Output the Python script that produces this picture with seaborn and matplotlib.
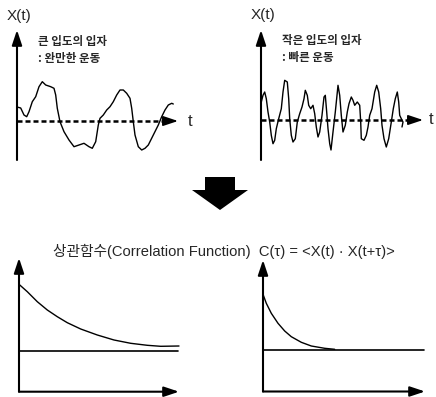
import numpy as np
import seaborn as sns
import matplotlib.pyplot as plt

# slow motion of a large particle (top left)
t_slow = [0.0, 0.37, 0.7, 0.97, 1.2, 1.53, 1.87, 2.2, 2.53, 2.87, 3.37, 3.7, 3.87,
          4.03, 4.3, 4.7, 5.2, 5.7, 6.2, 6.7, 7.2, 7.53, 7.87, 8.13, 8.3, 8.63, 8.97,
          9.3, 9.63, 9.97, 10.3, 10.63, 10.97, 11.3, 11.47, 11.63, 11.8, 12.13, 12.47,
          12.8, 13.13, 13.63, 14.13, 14.47, 14.8, 15.13, 15.47, 15.63]
x_slow = [1.4, 1.3, 0.6, 0.43, 0.93, 1.93, 2.43, 3.43, 3.93, 3.6, 3.43, 3.27, 2.6,
          1.27, -0.07, -1.07, -1.9, -2.57, -2.4, -2.23, -2.57, -2.73, -2.07, -0.4, 0.27,
          0.6, 1.1, 1.43, 1.93, 2.6, 3.1, 3.1, 2.77, 2.27, 1.27, -0.07, -1.4, -2.57, -2.9,
          -2.73, -2.4, -1.4, -0.4, 0.43, 1.1, 1.6, 1.77, 1.7]

# fast motion of a small particle (top right)
t_fast = [0.03, 0.2, 0.37, 0.53, 0.7, 0.87, 1.03, 1.2, 1.37, 1.53, 1.77, 2.03, 2.2,
          2.37, 2.63, 2.77, 2.87, 3.03, 3.2, 3.43, 3.63, 3.87, 4.1, 4.3, 4.43, 4.63,
          4.77, 4.97, 5.2, 5.37, 5.53, 5.7, 5.87, 6.1, 6.3, 6.43, 6.57, 6.7, 6.87, 7.0,
          7.2, 7.43, 7.6, 7.7, 7.87, 8.03, 8.2, 8.43, 8.63, 8.8, 9.03, 9.2, 9.37, 9.63,
          9.87, 9.97, 10.03, 10.3, 10.53, 10.7, 10.87, 11.1, 11.37, 11.57, 11.77, 11.97,
          12.1, 12.3, 12.53, 12.77, 13.03, 13.23, 13.43, 13.63, 13.77, 13.87, 14.03,
          14.2, 14.1]
x_fast = [1.8, 2.47, 2.8, 2.13, 0.8, -0.2, -1.53, -2.37, -2.03, -0.87, 0.13, 1.13, 2.8,
          3.97, 3.8, 2.13, 0.13, -1.53, -2.2, -1.87, -0.2, 0.63, 1.3, 2.13, 2.97, 2.47,
          1.47, 1.13, 1.47, 0.63, -0.7, -1.7, -1.2, 0.47, 2.3, 2.47, 0.8, -0.87, -2.37,
          -3.0, -1.2, 0.8, 2.47, 3.47, 2.47, 0.47, -1.2, -0.53, 0.8, 1.63, 2.3, 1.97, 1.47,
          1.8, 1.47, -0.2, -1.87, -2.03, -1.53, -0.7, 0.47, 1.13, 2.8, 3.47, 2.8, 1.13,
          -0.53, -1.87, -2.7, -1.87, -0.2, 1.13, 2.13, 2.8, 1.8, 0.47, 0.13, -0.2, -0.7]

# correlation functions (bottom)
tau_slow = [0.0, 0.83, 1.83, 2.83, 3.83, 4.83, 6.17, 7.83, 9.5, 11.17, 12.83, 14.17, 16.0]
c_slow = [6.67, 5.93, 4.93, 4.1, 3.43, 2.83, 2.2, 1.6, 1.1, 0.77, 0.57, 0.47, 0.5]
tau_fast = [0.0, 0.33, 0.83, 1.5, 2.17, 2.83, 3.83, 4.83, 6.17, 7.17]
c_fast = [5.52, 4.62, 3.62, 2.62, 1.85, 1.28, 0.72, 0.35, 0.12, 0.02]

label_slow = "큰 입도의 입자\n: 완만한 운동"
label_fast = "작은 입도의 입자\n: 빠른 운동"
title = "상관함수(Correlation Function)  C(τ) = <X(t) · X(t+τ)>"

sns.set_style("white")
plt.rcParams['font.family'] = ['Noto Sans CJK KR', 'DejaVu Sans']

W, H = 436, 397
fig = plt.figure(figsize=(W / 100, H / 100), dpi=100)


def box(x0, y0, x1, y1):
    # pixel box -> figure fraction
    return [x0 / W, 1 - y1 / H, (x1 - x0) / W, (y1 - y0) / H]


def arrow(ax, xy_from, xy_to, lw=1.5):
    ax.annotate('', xy=xy_to, xytext=xy_from,
                arrowprops=dict(arrowstyle='-|>,head_length=0.9,head_width=0.3',
                                color='black', lw=lw, shrinkA=0, shrinkB=0,
                                mutation_scale=10))


def signal_panel(ax, t, x, text, x_end, ylo, yhi, t_lab):
    sns.lineplot(x=t, y=x, sort=False, estimator=None, color='black', lw=1.0, ax=ax)
    ax.plot([0, x_end - 0.9], [0, 0], color='black', lw=1.8, ls=(0, (2, 1.2)))
    arrow(ax, (x_end - 1.0, 0), (x_end, 0), lw=1.2)
    arrow(ax, (0, ylo), (0, yhi))
    ax.text(0.25, 10.5, "X(t)", family='Liberation Sans', fontsize=11,
            ha='center', va='center')
    ax.text(t_lab, 0, "t", family='Liberation Sans', fontsize=12,
            ha='center', va='center')
    ax.text(2.1, 7.1, text, fontsize=8.3, weight='bold', ha='left', va='center',
            linespacing=1.35)
    ax.set_axis_off()


axA = fig.add_axes(box(0, 0, 218, 170))
axA.set_xlim(-1.7, 20.1)
axA.set_ylim(-4.9, 12.1)
signal_panel(axA, t_slow, x_slow, label_slow, 16.1, -3.9, 9.1, 17.3)

axB = fig.add_axes(box(218, 0, 436, 170))
axB.set_xlim(-4.3, 17.5)
axB.set_ylim(-5.0, 12.0)
signal_panel(axB, t_fast, x_fast, label_fast, 16.2, -4.0, 9.0, 17.0)


def corr_panel(ax, tau, c, x_end, ylo, yhi):
    sns.lineplot(x=tau, y=c, sort=False, estimator=None, color='black', lw=1.0, ax=ax)
    ax.plot([0, x_end - 0.1], [0, 0], color='black', lw=1.2)
    arrow(ax, (0, ylo), (0, yhi))
    arrow(ax, (0, ylo), (x_end, ylo))
    ax.set_axis_off()


axC = fig.add_axes(box(0, 255, 218, 397))
axC.set_xlim(-1.9, 19.9)
axC.set_ylim(-4.6, 9.6)
corr_panel(axC, tau_slow, c_slow, 16.0, -4.07, 9.3)

axD = fig.add_axes(box(218, 255, 436, 397))
axD.set_xlim(-4.5, 17.3)
axD.set_ylim(-4.75, 9.45)
corr_panel(axD, tau_fast, c_fast, 16.2, -4.2, 8.95)

# big down arrow and title
axO = fig.add_axes([0, 0, 1, 1], zorder=-1)
axO.set_xlim(0, W)
axO.set_ylim(H, 0)
axO.fill([205, 235, 235, 248, 220, 192, 205], [177, 177, 190, 190, 210, 190, 190],
         color='black', lw=0)
axO.set_axis_off()
fig.text(224 / W, 1 - 251 / H, title, fontsize=10.6,
         family=['Liberation Sans', 'Noto Sans CJK KR'], ha='center', va='center')

fig.savefig('out.png', dpi=100)
